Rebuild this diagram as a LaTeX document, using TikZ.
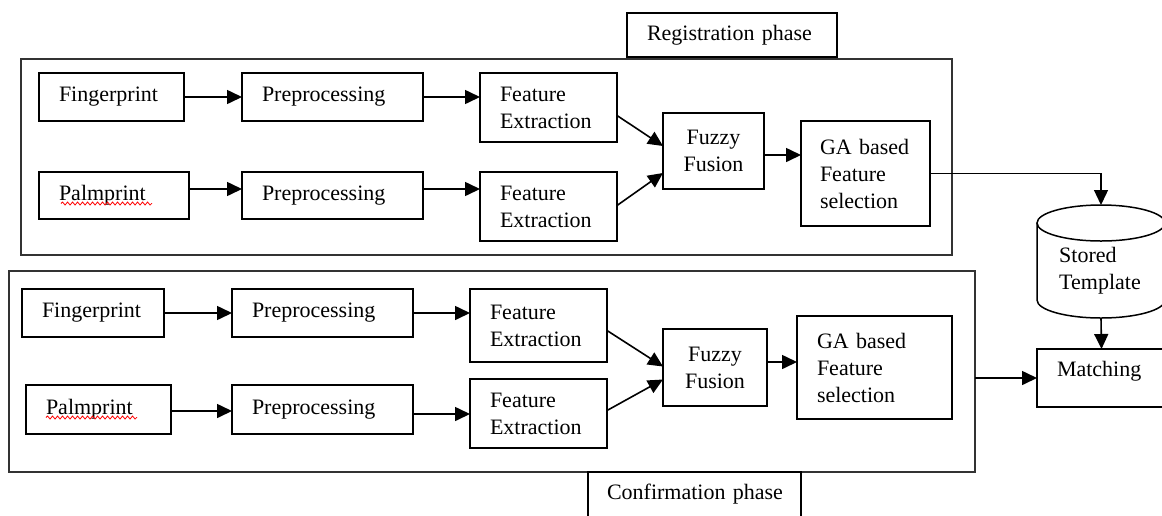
\documentclass[tikz,border=0pt]{standalone}
\usepackage{fontspec}
\setmainfont{Liberation Serif}
\usetikzlibrary{arrows.meta,calc,decorations.pathmorphing}

\tikzset{
  blk/.style={draw, line width=1.6pt, inner xsep=20pt, inner ysep=0pt, outer sep=0pt, align=left, anchor=north west},
  frm/.style={draw=black!80, line width=1.6pt, inner sep=0pt, outer sep=0pt, anchor=north west},
  arr/.style={line width=1.6pt, -{Triangle[length=15pt,width=14pt]}},
  spell/.style={red, line width=0.8pt, decorate, decoration={snake, amplitude=1.5pt, segment length=5pt}},
}

\begin{document}
\begin{tikzpicture}[x=1pt, y=-1pt, font=\fontsize{22}{27}\selectfont]
\useasboundingbox (0,0) rectangle (1162,515);

% phase frames and their labels
\node[frm, minimum width=931pt, minimum height=196pt] (reg) at (21,59) {};
\node[frm, minimum width=966pt, minimum height=201pt] (conf) at (9,271) {};
\node[blk, text width=170pt, minimum height=44pt] (reglbl) at (627,13) {Registration~phase};
\node[blk, inner xsep=19pt, text width=175pt, minimum height=45pt] (conflbl) at (588,472) {Confirmation~phase};

% registration
\node[blk, text width=105pt, minimum height=48pt] (fp1) at (39,73) {Fingerprint};
\node[blk, text width=141pt, minimum height=48pt] (pp1) at (242,73) {Preprocessing};
\node[blk, text width=97pt, minimum height=69pt] (fe1) at (480,73) {Feature\\Extraction};
\node[blk, text width=110pt, minimum height=47pt] (pm1) at (39,172) {Palmprint};
\node[blk, text width=141pt, minimum height=47pt] (pp2) at (242,172) {Preprocessing};
\node[blk, text width=97pt, minimum height=69pt] (fe2) at (480,172) {Feature\\Extraction};
\node[blk, align=center, text width=61pt, minimum height=76pt] (fz1) at (663,113) {Fuzzy\\Fusion};
\node[blk, inner xsep=19pt, text width=91pt, minimum height=105pt] (ga1) at (801,121) {GA~based\\Feature\\selection};

% confirmation
\node[blk, text width=102pt, minimum height=48pt] (fp2) at (22,289) {Fingerprint};
\node[blk, text width=141pt, minimum height=48pt] (pp3) at (232,289) {Preprocessing};
\node[blk, text width=97pt, minimum height=73pt] (fe3) at (470,289) {Feature\\Extraction};
\node[blk, text width=105pt, minimum height=49pt] (pm2) at (26,385) {Palmprint};
\node[blk, text width=141pt, minimum height=49pt] (pp4) at (232,385) {Preprocessing};
\node[blk, text width=97pt, minimum height=69pt] (fe4) at (470,379) {Feature\\Extraction};
\node[blk, align=center, text width=64pt, minimum height=77pt] (fz2) at (663,329) {Fuzzy\\Fusion};
\node[blk, text width=115pt, minimum height=103pt] (ga2) at (797,316) {GA~based\\Feature\\selection};

% template store (cylinder) and matcher
\node[anchor=west, align=left, inner sep=0pt] (store) at (1059,271) {Stored\\Template};
\coordinate (cyltop) at (1101,205);
\coordinate (cylbot) at (1101,318);
\draw[line width=1.5pt] (1101,223) ellipse [x radius=64, y radius=18];
\draw[line width=1.5pt] (1037,223) -- (1037,300) .. controls (1037,310) and (1066,318) .. (cylbot)
  .. controls (1136,318) and (1165,310) .. (1165,300) -- (1165,223);
\node[blk, text width=89pt, text height=21pt, text depth=25pt, inner ysep=6pt] (match) at (1037,349) {Matching};

% spell-check marks
\draw[spell] ($(pm1.west)+(22,8)$) -- ++(91,0);
\draw[spell] ($(pm2.west)+(20,8)$) -- ++(91,0);

% registration arrows
\draw[arr] (fp1) -- (fp1 -| pp1.west);
\draw[arr] (pm1.east |- 0,189) -- (pp2.west |- 0,189);
\draw[arr] (pp1) -- (pp1 -| fe1.west);
\draw[arr] (pp2.east |- 0,189) -- (fe2.west |- 0,189);
\draw[arr] ($(fe1.east)+(0,8)$) -- ($(fz1.west)+(0,-5)$);
\draw[arr] ($(fe2.east)+(0,-1)$) -- ($(fz1.west)+(0,22)$);
\draw[arr] (fz1.east |- 0,155) -- (ga1.west |- 0,155);
\draw[arr, line width=1.3pt] (ga1.east) -| (cyltop);
\draw[arr] (cylbot) -- (match.north);

% confirmation arrows
\draw[arr] (fp2) -- (fp2 -| pp3.west);
\draw[arr] (pm2.east |- 0,411) -- (pp4.west |- 0,411);
\draw[arr] (pp3) -- (pp3 -| fe3.west);
\draw[arr] (pp4.east |- 0,414) -- (fe4.west |- 0,414);
\draw[arr] ($(fe3.east)+(0,5)$) -- ($(fz2.west)+(0,-1)$);
\draw[arr] ($(fe4.east)+(0,-3)$) -- ($(fz2.west)+(0,12)$);
\draw[arr] (fz2.east |- 0,362) -- (ga2.west |- 0,362);
\draw[arr] (match.west -| conf.east) -- (match.west);
\end{tikzpicture}
\end{document}
